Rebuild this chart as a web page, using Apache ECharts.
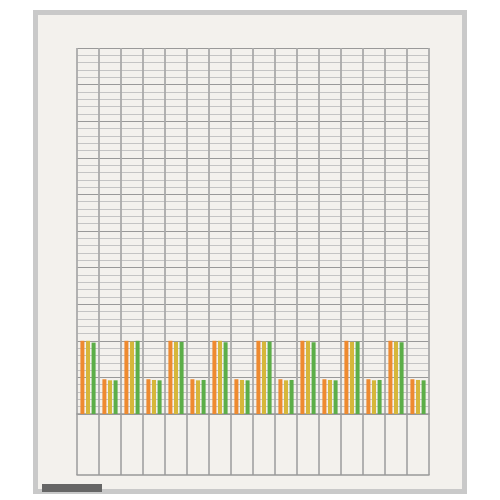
<!DOCTYPE html><html><head><meta charset="utf-8"><script src="https://cdn.jsdelivr.net/npm/echarts@6/dist/echarts.min.js"></script>
<style>html,body{margin:0;background:#fff}#c{width:500px;height:500px}</style></head><body><div id="c"></div><script>
const categories=['1','2','3','4','5','6','7','8','9','10','11','12','13','14','15','16'];
const orange=[2.0,0.95,2.0,0.95,2.0,0.95,2.0,0.95,2.0,0.95,2.0,0.95,2.0,0.95,2.0,0.95];
const yellow=[2.0,0.92,1.98,0.93,1.97,0.92,2.0,0.93,1.98,0.92,2.0,0.93,1.97,0.92,1.98,0.93];
const green=[1.95,0.92,2.0,0.92,1.97,0.93,1.96,0.92,1.98,0.93,1.96,0.92,1.98,0.93,1.96,0.92];
const c=echarts.init(document.getElementById('c'));
const bar=(d,col)=>({type:'bar',data:d,barWidth:4,barGap:'40%',itemStyle:{color:col},xAxisIndex:0,yAxisIndex:0});
c.setOption({animation:false,backgroundColor:'#fff',
graphic:[
{type:'rect',shape:{x:33,y:10,width:434,height:484},style:{fill:'#c9c9c9'},z:-10},
{type:'rect',shape:{x:38,y:15,width:424,height:474},style:{fill:'#f3f1ed'},z:-9},
{type:'rect',shape:{x:42,y:484,width:60,height:8},style:{fill:'#666'},z:-8}],
grid:[{left:77,right:71,top:48,bottom:86},{left:77,right:71,top:414,bottom:25}],
xAxis:[{type:'category',data:categories,gridIndex:0,axisLabel:{show:false},axisTick:{show:false},axisLine:{lineStyle:{color:'#999',width:1.5}},splitLine:{show:true,lineStyle:{color:'#aaa',width:1.8}}},
{type:'category',data:categories,gridIndex:1,axisLabel:{show:false},axisTick:{show:false},axisLine:{lineStyle:{color:'#999',width:1.5}},splitLine:{show:true,lineStyle:{color:'#aaa',width:1.8}}}],
yAxis:[{type:'value',gridIndex:0,min:0,max:10,interval:1,axisLabel:{show:false},axisLine:{show:false},axisTick:{show:false},splitLine:{lineStyle:{color:'#999',width:1.2}},minorTick:{show:false,splitNumber:5},minorSplitLine:{show:true,lineStyle:{color:'#c4c4c4',width:1}}},
{type:'value',gridIndex:1,min:0,max:1,interval:1,axisLabel:{show:false},axisLine:{show:false},axisTick:{show:false},splitLine:{show:false}}],
series:[bar(orange,'#ee8a30'),bar(yellow,'#d6b73a'),bar(green,'#5cae48')]});
</script></body></html>
